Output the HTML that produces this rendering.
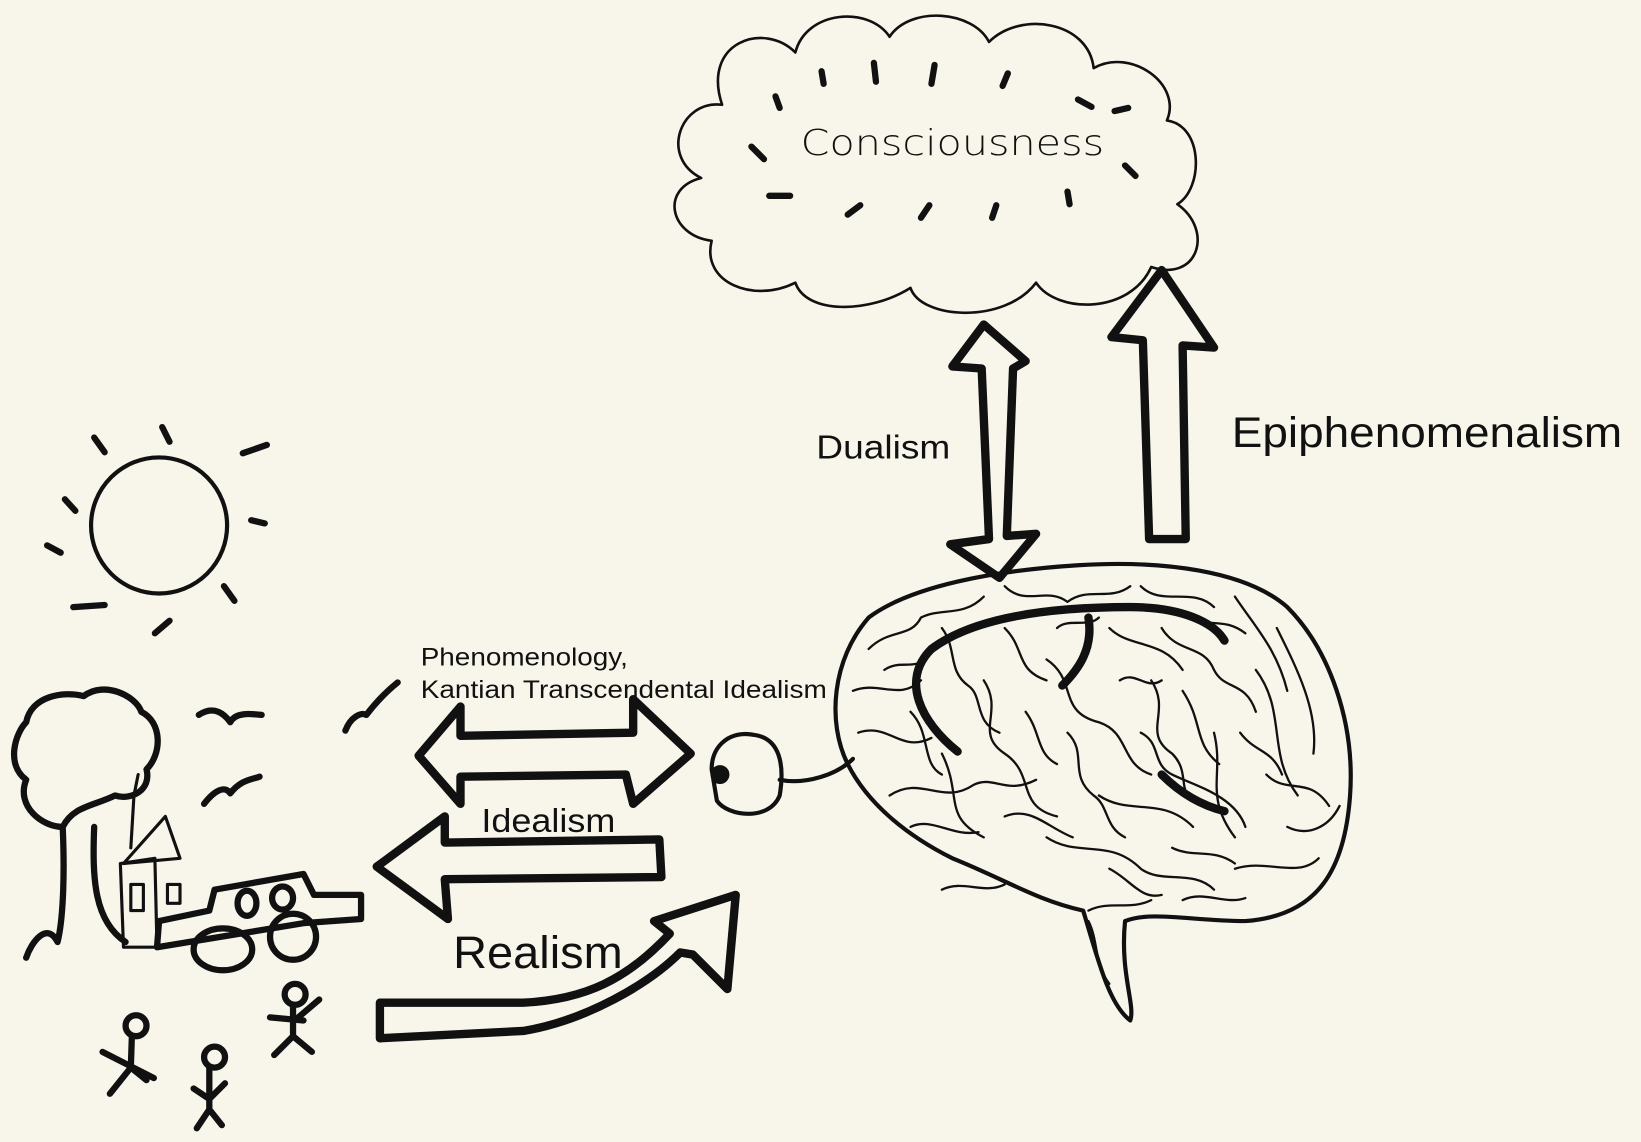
<!DOCTYPE html>
<html><head><meta charset="utf-8"><style>
html,body{margin:0;padding:0;background:#f8f6ea;width:1641px;height:1142px;overflow:hidden}
svg{display:block}
text{font-family:"Liberation Sans",sans-serif;fill:#111}
</style></head><body>
<svg width="1641" height="1142" viewBox="0 0 1568 1091">
<rect width="1568" height="1091" fill="#f8f6ea"/>
<g fill="none" stroke="#111" stroke-linecap="round" stroke-linejoin="round">
<path stroke-width="2.5" d="M690 100 C670 40 730 20 760 50 C770 10 830 5 850 35 C870 5 930 10 945 40 C975 10 1040 20 1045 65 C1080 45 1130 80 1115 115 C1150 120 1150 180 1125 195 C1160 220 1145 270 1100 255 C1080 300 1010 300 990 270 C960 310 880 305 870 275 C830 300 770 300 760 270 C720 290 670 270 680 230 C640 225 630 180 670 170 C630 150 650 95 690 100 Z"/>
<g stroke-width="6">
<path d="M741 92 L745 103"/><path d="M785 68 L787 80"/><path d="M835 60 L837 78"/><path d="M893 62 L890 80"/><path d="M963 70 L958 82"/><path d="M1030 95 L1043 102"/><path d="M1065 106 L1078 103"/><path d="M718 140 L730 152"/><path d="M1075 158 L1085 168"/><path d="M735 187 L755 187"/><path d="M810 205 L822 196"/><path d="M880 208 L888 196"/><path d="M948 208 L952 196"/><path d="M1020 183 L1022 195"/></g>
<path stroke-width="8" d="M940 310 L910 350 L938 352 L945 515 L908 520 L955 552 L990 510 L962 512 L968 352 L980 345 Z"/>
<path stroke-width="8" d="M1110 258 L1062 322 L1092 325 L1098 515 L1133 515 L1130 330 L1160 332 Z"/>
<circle cx="152" cy="502" r="65" stroke-width="4"/>
<g stroke-width="6"><path d="M90 418 L100 432"/><path d="M155 408 L162 422"/><path d="M232 433 L255 425"/><path d="M62 477 L72 488"/><path d="M240 497 L253 500"/><path d="M45 521 L58 528"/><path d="M214 560 L224 574"/><path d="M70 580 L100 578"/><path d="M148 605 L162 593"/></g>
<g stroke-width="6"><path d="M60 790 C40 790 15 770 25 745 C5 730 15 700 25 690 C30 665 60 660 80 665 C100 650 130 665 135 680 C155 690 155 720 140 735 C145 755 125 765 110 760 C90 770 70 770 60 790 Z"/><path d="M60 792 C62 840 60 880 55 900 C45 880 30 900 25 915"/><path d="M90 790 C88 840 90 880 120 900"/></g>
<g stroke-width="3"><path d="M115 825 L118 905 L150 905 L148 820 Z M118 825 L158 780 L172 820 Z"/><rect x="125" y="845" width="12" height="25"/><rect x="160" y="845" width="12" height="18"/><path d="M125 810 L128 760 L132 740"/></g>
<g stroke-width="6"><path d="M150 905 L152 880 L200 870 L205 850 L290 835 L300 855 L345 855 L345 878 L290 882 L150 905 Z"/><ellipse cx="213" cy="907" rx="28" ry="20"/><ellipse cx="280" cy="895" rx="22" ry="22"/><ellipse cx="236" cy="863" rx="9" ry="12"/><ellipse cx="270" cy="858" rx="10" ry="11"/></g>
<g stroke-width="6"><path d="M190 683 C205 673 215 683 220 690 C225 680 240 682 250 683"/><path d="M195 768 C205 755 215 750 220 758 C230 745 240 745 248 742"/><path d="M330 698 C335 685 345 680 350 683 C360 670 370 660 380 652"/></g>
<g stroke-width="6"><circle cx="130" cy="980" r="10"/><path d="M126 990 L125 1020 L105 1045 M98 1005 L147 1030 M125 1020 L140 1032"/><circle cx="205" cy="1010" r="10"/><path d="M200 1020 L200 1060 L188 1078 M200 1060 L212 1075 M185 1040 L200 1050 L215 1035"/><circle cx="282" cy="950" r="10"/><path d="M280 960 L280 990 L262 1008 M258 972 L290 975 M280 990 L298 1005 M285 972 L305 955"/></g>
<path stroke-width="8" d="M400 722 L440 675 L440 703 L605 700 L605 668 L660 720 L605 768 L598 740 L440 742 L440 768 Z"/>
<path stroke-width="8" d="M360 828 L425 780 L425 805 L630 802 L632 838 L425 840 L428 878 Z"/>
<path stroke-width="8" d="M363 958 L363 992 L500 985 C560 975 620 940 650 910 L662 912 L695 945 L703 855 L625 880 L640 892 C600 935 560 955 500 958 Z"/>
<g stroke-width="4"><path d="M680 735 C680 710 700 698 720 702 C745 705 750 730 745 760 C735 785 695 780 685 765 Z"/><circle cx="688" cy="740" r="7" fill="#111"/><path d="M745 745 C770 750 800 740 815 725"/></g>
<path stroke-width="4" d="M830 590 C870 560 950 545 1030 540 C1110 535 1190 545 1230 580 C1270 620 1295 690 1290 760 C1285 830 1260 875 1190 880 C1140 880 1100 870 1075 880 C1070 930 1085 960 1080 975 C1060 960 1050 920 1035 870 C990 860 960 840 910 820 C870 800 830 770 810 730 C790 690 795 630 830 590 Z"/>
<g stroke-width="2.2">
<path d="M830 620 C850 600 870 610 880 590 C900 580 920 590 940 570"/><path d="M815 660 C840 650 860 670 880 650"/><path d="M820 700 C850 690 860 720 890 705"/><path d="M850 760 C880 740 900 770 930 750 C950 740 960 760 990 745"/><path d="M960 560 C980 580 1000 560 1020 575 C1040 560 1060 575 1080 560"/><path d="M1090 560 C1110 580 1140 560 1160 580"/><path d="M1180 570 C1200 600 1220 620 1230 660"/><path d="M1200 640 C1230 680 1210 720 1240 760"/><path d="M1160 700 C1170 740 1150 760 1180 800"/><path d="M1100 650 C1120 680 1090 700 1120 720 C1140 740 1120 760 1150 770"/><path d="M1000 630 C1030 650 1010 680 1050 690 C1080 700 1070 730 1100 740"/><path d="M940 650 C960 680 930 700 960 720 C990 740 970 770 1010 780"/><path d="M900 720 C920 760 900 780 940 800"/><path d="M1000 800 C1030 820 1060 800 1090 830 C1110 845 1140 830 1160 850"/><path d="M1180 830 C1210 820 1240 840 1260 820"/><path d="M1050 760 C1080 780 1110 760 1140 790"/><path d="M1060 600 C1080 620 1110 610 1130 640"/><path d="M870 680 C890 700 880 730 900 740"/><path d="M960 600 C980 620 970 640 1000 650"/><path d="M1210 740 C1230 760 1250 740 1270 770"/><path d="M1040 870 C1060 860 1080 870 1100 860"/>
<path d="M900 600 C915 620 905 640 925 655 C940 665 930 690 955 700"/><path d="M1110 600 C1125 625 1150 615 1160 640 C1170 660 1190 650 1200 680"/><path d="M1130 660 C1150 690 1140 710 1165 730"/><path d="M1020 700 C1040 720 1020 740 1045 760 C1060 770 1055 790 1075 800"/><path d="M960 780 C985 770 1000 790 1025 800"/><path d="M870 790 C890 780 910 800 935 795"/><path d="M1090 700 C1110 710 1100 730 1120 740 C1140 750 1180 760 1190 790"/><path d="M1220 600 C1240 640 1260 680 1255 720"/><path d="M1185 700 C1200 720 1215 715 1225 740"/><path d="M1230 790 C1250 800 1270 790 1280 770"/><path d="M1120 810 C1140 820 1160 810 1180 825"/><path d="M1060 830 C1080 840 1090 860 1110 855"/><path d="M980 680 C995 700 990 720 1010 730"/><path d="M1070 650 C1085 640 1095 660 1110 650"/><path d="M1140 590 C1160 600 1170 590 1190 605"/><path d="M845 640 C860 630 870 640 885 630"/><path d="M900 850 C920 840 940 855 960 845"/><path d="M1040 880 C1050 900 1045 920 1060 940"/><path d="M1130 860 C1150 850 1170 865 1190 858"/><path d="M1010 600 C1020 590 1040 600 1050 590"/></g>
<g stroke-width="8"><path d="M915 718 C880 690 860 650 890 620 C930 590 1000 580 1080 580 C1130 580 1160 595 1170 612"/><path d="M1040 590 C1045 620 1030 640 1015 655"/><path d="M1110 740 C1130 760 1150 770 1170 775"/></g>
</g>
<text x="765" y="148" font-size="34" textLength="290" lengthAdjust="spacingAndGlyphs" style="font-family:'DejaVu Sans',sans-serif" font-weight="300">Consciousness</text>
<text x="780" y="438" font-size="32" textLength="128" lengthAdjust="spacingAndGlyphs">Dualism</text>
<text x="1177" y="427" font-size="41" textLength="373" lengthAdjust="spacingAndGlyphs">Epiphenomenalism</text>
<text x="402" y="636" font-size="24" textLength="198" lengthAdjust="spacingAndGlyphs">Phenomenology,</text>
<text x="402" y="667" font-size="24" textLength="388" lengthAdjust="spacingAndGlyphs">Kantian Transcendental Idealism</text>
<text x="460" y="795" font-size="32" textLength="128" lengthAdjust="spacingAndGlyphs">Idealism</text>
<text x="433" y="925" font-size="43" textLength="162" lengthAdjust="spacingAndGlyphs">Realism</text>
</svg>
</body></html>
